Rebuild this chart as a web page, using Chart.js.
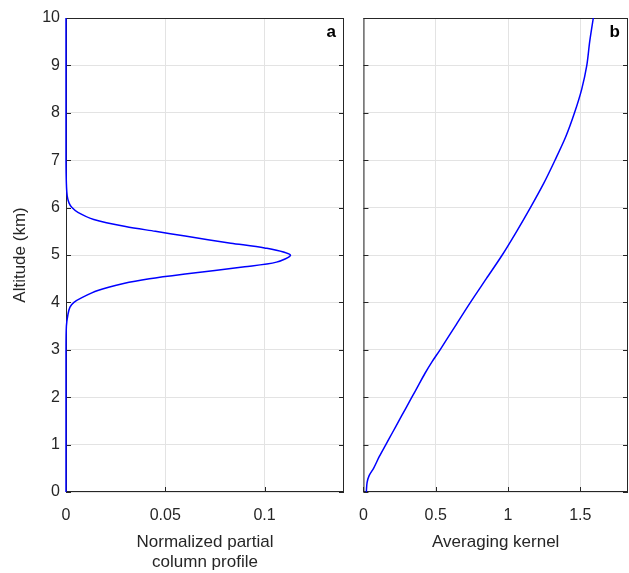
<!DOCTYPE html>
<html><head><script src="https://cdn.jsdelivr.net/npm/chart.js@4"></script>
<style>body{margin:0;background:#fff;width:629px;height:573px;position:relative;overflow:hidden}
div{position:absolute;top:0;height:573px}</style></head><body>
<div id="d1" style="left:0;width:345px"><canvas id="c1"></canvas></div>
<div id="d2" style="left:345px;width:284px"><canvas id="c2"></canvas></div>
<script>
const profileAlt = [0,1,2,3,3.5,3.75,3.9,4.0,4.1,4.25,4.4,4.5,4.6,4.75,4.85,5.0,5.15,5.25,5.4,5.5,5.6,5.75,5.9,6.0,6.1,6.25,6.5,7,8,9,10];
const profileVal = [0,0,0,0,0.0002,0.001,0.002,0.004,0.008,0.016,0.029,0.042,0.060,0.090,0.106,0.113,0.100,0.083,0.060,0.045,0.030,0.014,0.006,0.003,0.0015,0.0006,0.0002,0,0,0,0];
const kernelAlt = [0,0.2,0.35,0.5,0.75,1,1.25,1.5,1.75,2,2.25,2.5,2.75,3,3.5,4,4.5,5,5.5,6,6.5,7,7.5,8,8.5,9,9.5,10];
const kernelVal = [0.02,0.025,0.04,0.07,0.11,0.155,0.20,0.245,0.29,0.335,0.38,0.425,0.475,0.53,0.635,0.74,0.85,0.96,1.06,1.155,1.245,1.325,1.40,1.46,1.51,1.545,1.565,1.59];
const yTicks = [0,1,2,3,4,5,6,7,8,9,10];
const font = {family:"Liberation Sans, Arial", size:16};
const box = {id:'box',beforeDatasetsDraw(c,a,o){const ca=c.chartArea,x=c.ctx;x.save();x.strokeStyle='#262626';x.lineWidth=1;x.strokeRect(ca.left+0.5,ca.top+0.5,ca.right-ca.left-1,ca.bottom-ca.top-1);
 x.font='bold 17px Liberation Sans, Arial';x.fillStyle='#000';x.textAlign='right';x.textBaseline='top';x.fillText(o.label,ca.right-8,ca.top+6);
 c.scales.y.ticks.forEach(t=>{const y=Math.round(c.scales.y.getPixelForValue(t.value))+0.5;x.beginPath();x.moveTo(ca.left,y);x.lineTo(ca.left+5,y);x.moveTo(ca.right,y);x.lineTo(ca.right-5,y);x.stroke();});
 c.scales.x.ticks.forEach(t=>{const p=Math.round(c.scales.x.getPixelForValue(t.value))+0.5;x.beginPath();x.moveTo(p,ca.bottom);x.lineTo(p,ca.bottom-5);x.stroke();});
 x.restore();}};
function make(id, xs, ys, xmax, xTickVals, xTitle, showY, yW, label){
 const data = xs.map((v,i)=>({x:v,y:ys[i]}));
 new Chart(document.getElementById(id),{type:'scatter',
  data:{datasets:[{data,showLine:true,borderColor:'#0000ff',borderWidth:1.5,pointRadius:0,tension:0.3,clip:3}]},
  options:{responsive:true,maintainAspectRatio:false,animation:false,
   layout:{padding:{top:18,right:1,left:0,bottom:0}},
   plugins:{legend:{display:false},tooltip:{enabled:false},box:{label}},
   scales:{
    x:{type:'linear',min:0,max:xmax,afterBuildTicks:s=>{s.ticks=xTickVals.map(v=>({value:v}))},
     afterFit:s=>{s.height=81},
     ticks:{font,color:'#262626',padding:14,callback:v=>String(v)},
     grid:{color:'#e3e3e3',drawTicks:false},border:{display:false},
     title:{display:true,text:xTitle,font:{family:font.family,size:17},color:'#262626',padding:{top:0,bottom:0}}},
    y:{type:'linear',min:0,max:10,afterBuildTicks:s=>{s.ticks=yTicks.map(v=>({value:v}))},
     afterFit:s=>{s.width=yW},
     ticks:{display:showY,font,color:'#262626',padding:6},
     grid:{color:'#e3e3e3',drawTicks:false},border:{display:false},
     title:{display:showY,text:'Altitude (km)',font:{family:font.family,size:17},color:'#262626',padding:{top:10,bottom:0}}}
   }},plugins:[box]});
}
make('c1',profileVal,profileAlt,0.14,[0,0.05,0.1],['Normalized partial','column profile'],true,66,'a');
make('c2',kernelVal,kernelAlt,1.83,[0,0.5,1,1.5],['Averaging kernel',' '],false,10,'b');
</script></body></html>
